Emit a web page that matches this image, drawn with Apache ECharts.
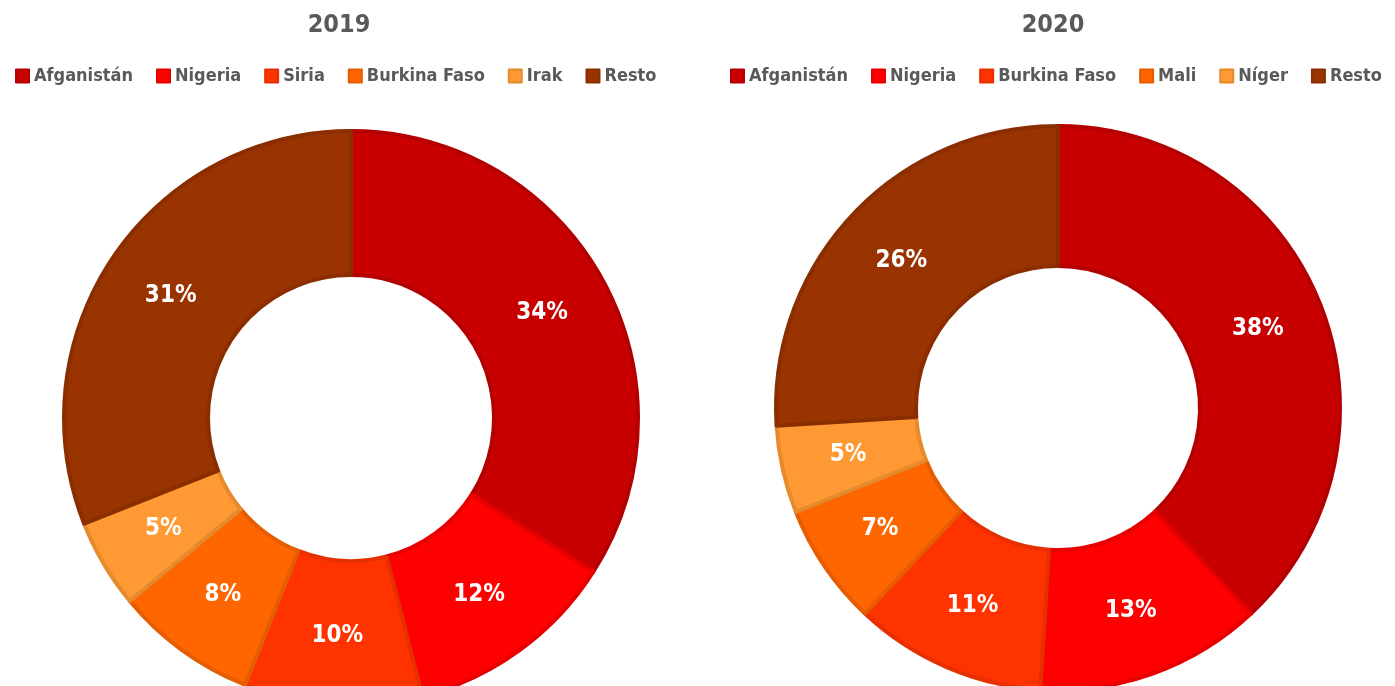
<!DOCTYPE html>
<html>
<head>
<meta charset="utf-8">
<script src="https://cdn.jsdelivr.net/npm/echarts@6/dist/echarts.min.js"></script>
<style>
  html, body { margin: 0; padding: 0; background: #fff; }
  #wrap { width: 1395px; height: 686px; position: relative; }
  .half { position: absolute; top: 0; width: 697px; height: 686px; }
  #chart1 { left: 0; }
  #chart2 { left: 697px; width: 698px; }
</style>
</head>
<body>
<div id="wrap">
  <div id="chart1" class="half"></div>
  <div id="chart2" class="half"></div>
</div>
<script>
var names2019 = ['Afganistán', 'Nigeria', 'Siria', 'Burkina Faso', 'Irak', 'Resto'];
var values2019 = [34, 12, 10, 8, 5, 31];
var names2020 = ['Afganistán', 'Nigeria', 'Burkina Faso', 'Mali', 'Níger', 'Resto'];
var values2020 = [38, 13, 11, 7, 5, 26];

var fills = ['#C80000', '#FF0000', '#FF3300', '#FF6600', '#FF9933', '#993300'];
var borders = ['#B40000', '#E60000', '#E63000', '#E65C00', '#E68A2E', '#8A2E00'];

var font = '"DejaVu Sans Condensed", "Liberation Sans Narrow", sans-serif';

function buildData(names, values) {
    return names.map(function (n, i) {
        return {
            name: n,
            value: values[i],
            itemStyle: { color: fills[i], borderColor: borders[i], borderWidth: 4 }
        };
    });
}

function makeChart(id, year, names, values, titleX, legendX, center, radius) {
    var chart = echarts.init(document.getElementById(id));
    chart.setOption({
        animation: false,
        title: {
            text: year, left: titleX, top: 8, textAlign: 'center',
            textStyle: { fontFamily: font, fontWeight: 'bold', fontSize: 25, color: '#595959' }
        },
        legend: {
            data: names,
            left: legendX,
            top: 62,
            icon: 'rect',
            itemWidth: 13,
            itemHeight: 13,
            itemGap: 23,
            textStyle: { fontFamily: font, fontWeight: 'bold', fontSize: 18, color: '#595959' },
            selectedMode: false
        },
        series: [{
            type: 'pie',
            center: center,
            radius: radius,
            startAngle: 90,
            clockwise: true,
            avoidLabelOverlap: false,
            label: {
                show: true,
                position: 'inside',
                formatter: '{c}%',
                color: '#fff',
                fontFamily: font,
                fontWeight: 'bold',
                fontSize: 24
            },
            labelLine: { show: false },
            emphasis: { disabled: true },
            data: buildData(names, values)
        }]
    });
    return chart;
}

makeChart('chart1', '2019', names2019, values2019, 334, 10, [351, 418], [143, 287]);
makeChart('chart2', '2020', names2020, values2020, 351, 28, [361, 408], [142, 282]);
</script>
</body>
</html>
